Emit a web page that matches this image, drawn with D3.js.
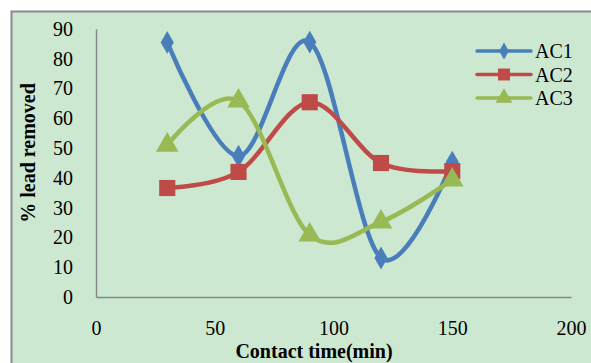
<!DOCTYPE html>
<html><head><meta charset="utf-8">
<script src="https://cdn.jsdelivr.net/npm/d3@7"></script>
<style>html,body{margin:0;padding:0;background:#fff;}svg{display:block;}
text{font-family:"Liberation Serif","DejaVu Serif",serif;}</style>
</head><body>
<script>
const xValues = [30, 60, 90, 120, 150];
const ac1 = [85.5, 47.3, 85.6, 13.1, 45.3];
const ac2 = [36.6, 42.0, 65.4, 45.0, 42.3];
const ac3 = [51.0, 65.8, 20.8, 25.2, 39.3];
const seriesNames = ["AC1", "AC2", "AC3"];
const xTicks = [0, 50, 100, 150, 200];
const yTicks = [0, 10, 20, 30, 40, 50, 60, 70, 80, 90];

const W = 591, H = 363;
const colors = ["#4a7ebb", "#be4b48", "#98b954"];
const symbols = [d3.symbolDiamond, d3.symbolSquare, d3.symbolTriangle];
const sizes = [150, 260, 220];

const svg = d3.select("body").append("svg").attr("width", W).attr("height", H);
svg.append("rect").attr("x", 11.5).attr("y", 11.5).attr("width", W + 10).attr("height", H + 10)
  .attr("fill", "#cde8d1").attr("stroke", "#8a8a8a").attr("stroke-width", 2);

const x = d3.scaleLinear().domain([0, 200]).range([96, 571]);
const y = d3.scaleLinear().domain([0, 90]).range([297, 29]);

const xAxis = svg.append("g").attr("transform", "translate(0,297)")
  .call(d3.axisBottom(x).tickValues(xTicks).tickSize(0).tickPadding(24));
const yAxis = svg.append("g").attr("transform", "translate(96,0)")
  .call(d3.axisLeft(y).tickValues(yTicks).tickSize(0).tickPadding(23));
[xAxis, yAxis].forEach(g => {
  g.select(".domain").attr("stroke", "#868686").attr("stroke-width", 1.5);
  g.selectAll("text").attr("font-family", null).attr("font-size", 20).attr("fill", "#000");
});
xAxis.attr("font-family", null);
yAxis.attr("font-family", null);

const data = [ac1, ac2, ac3];
const line = d3.line().x((d, i) => x(xValues[i])).y(d => y(d)).curve(d3.curveCardinal.tension(0));

data.forEach((s, k) => {
  svg.append("path").datum(s).attr("d", line).attr("fill", "none")
    .attr("stroke", colors[k]).attr("stroke-width", 4.5).attr("stroke-linejoin", "round");
});
data.forEach((s, k) => {
  svg.selectAll(null).data(s).enter().append("path")
    .attr("d", d3.symbol().type(symbols[k]).size(sizes[k]))
    .attr("transform", (d, i) => `translate(${x(xValues[i])},${y(d)})`)
    .attr("fill", colors[k]);
});

// legend
const lg = svg.append("g");
seriesNames.forEach((n, k) => {
  const ly = 51 + k * 23.5;
  lg.append("line").attr("x1", 477).attr("x2", 531).attr("y1", ly).attr("y2", ly)
    .attr("stroke", colors[k]).attr("stroke-width", 3.5).attr("stroke-linecap", "round");
  lg.append("path").attr("d", d3.symbol().type(symbols[k]).size(sizes[k] * 0.55))
    .attr("transform", `translate(504,${ly})`).attr("fill", colors[k]);
  lg.append("text").attr("x", 535).attr("y", ly + 7).text(n)
    .attr("font-size", 20).attr("fill", "#000");
});

// axis titles
svg.append("text").attr("x", 314).attr("y", 358).attr("text-anchor", "middle")
  .attr("font-weight", "bold").attr("font-size", 20).text("Contact time(min)");
svg.append("text").attr("transform", "translate(35,153) rotate(-90)").attr("text-anchor", "middle")
  .attr("font-weight", "bold").attr("font-size", 20).text("% lead removed");
</script>
</body></html>
